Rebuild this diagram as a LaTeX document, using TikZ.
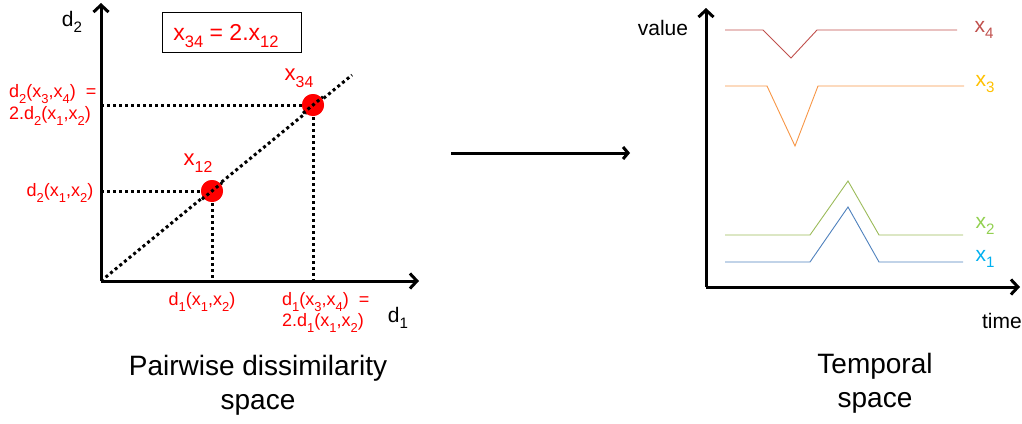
\documentclass[tikz,border=0pt]{standalone}
\usepackage{fontspec}
\setmainfont{Liberation Sans}
\usetikzlibrary{arrows.meta}
\newcommand\sbs[1]{\raisebox{-0.3em}{\scalebox{0.72}{#1}}}
\definecolor{cx4}{HTML}{C0504D}
\definecolor{cx3}{HTML}{F79646}
\definecolor{cx2}{HTML}{9BBB59}
\definecolor{cx1}{HTML}{4F81BD}
\definecolor{lx3}{HTML}{FFC000}
\definecolor{lx2}{HTML}{92D050}
\definecolor{lx1}{HTML}{00B0F0}
\definecolor{rd}{HTML}{FF0000}
\tikzset{
  axis/.style={line width=3pt,-{Straight Barb[length=7pt,width=15pt,line width=3pt]}},
  dotline/.style={line width=3pt,dash pattern=on 3pt off 3pt},
  redlbl/.style={text=rd,font=\fontsize{18}{22}\selectfont,inner sep=0pt},
  biglbl/.style={font=\fontsize{28}{34}\selectfont,align=center,inner sep=0pt},
  axlbl/.style={font=\fontsize{21}{25}\selectfont,inner sep=0pt},
  dot/.style={circle,fill=rd,minimum size=22pt,inner sep=0pt},
  curve/.style={line width=0.9pt},
}
\begin{document}
\begin{tikzpicture}[x=1pt,y=-1pt]
\useasboundingbox (0,0) rectangle (1022,423);
% ---- left panel
\coordinate (O) at (101,281);
\coordinate (Ytip) at (101,3);
\coordinate (Xtip) at (419,281);
\coordinate (Dend) at (352,75);
\node[dot] (p12) at (212,191) {};
\node[dot] (p34) at (313,105) {};
\coordinate (h12) at (101,191);
\coordinate (h34) at (101,105);
\coordinate (v12) at (212,281);
\coordinate (v34) at (313,281);
\draw[dotline] (O) -- (Dend);
\draw[dotline] (h12) -- (p12.center);
\draw[dotline] (h34) -- (p34.center);
\draw[dotline] (p12.center) -- (v12);
\draw[dotline] (p34.center) -- (v34);
\node[dot] at (p12) {};
\node[dot] at (p34) {};
\draw[dotline] (p12.center) ++(-10,8.2) -- ++(20,-16.4);
\draw[dotline] (p34.center) ++(-10,8.2) -- ++(20,-16.4);
\draw[axis] (O) -- (Ytip);
\draw[axis] (O) -- (Xtip);
\node[axlbl] (d2) at (72,22) {d\sbs{2}};
\node[axlbl] (d1) at (398,318) {d\sbs{1}};
\node[draw,line width=0.8pt,minimum width=139pt,minimum height=40pt] (box) at (231.5,32) {};
\node[text=rd,font=\fontsize{23}{27}\selectfont,inner sep=0pt] (eq) at (226,36) {x\sbs{34} = 2.x\sbs{12}};
\node[text=rd,font=\fontsize{22}{26}\selectfont,inner sep=0pt] (l12) at (198,163) {x\sbs{12}};
\node[text=rd,font=\fontsize{22}{26}\selectfont,inner sep=0pt] (l34) at (299,78) {x\sbs{34}};
\node[redlbl,anchor=west] (ly34a) at (9,94) {d\sbs{2}(x\sbs{3},x\sbs{4}) \ =};
\node[redlbl,anchor=west] (ly34b) at (9,116) {2.d\sbs{2}(x\sbs{1},x\sbs{2})};
\node[redlbl] (ly12) at (60,193) {d\sbs{2}(x\sbs{1},x\sbs{2})};
\node[redlbl] (lx12) at (202,302) {d\sbs{1}(x\sbs{1},x\sbs{2})};
\node[redlbl,anchor=west] (lx34a) at (282,302) {d\sbs{1}(x\sbs{3},x\sbs{4}) \ =};
\node[redlbl,anchor=west] (lx34b) at (282,323) {2.d\sbs{1}(x\sbs{1},x\sbs{2})};
\node[biglbl] (t1) at (258,385) {Pairwise dissimilarity\\space};
% ---- middle arrow
\coordinate (ma) at (451,153);
\coordinate (mb) at (630,153);
\draw[line width=3pt,-{Straight Barb[length=5pt,width=12pt,line width=3pt]}] (ma) -- (mb);
% ---- right panel
\coordinate (O2) at (706,287);
\coordinate (Y2) at (706,8);
\coordinate (X2) at (1020,287);
\draw[axis] (O2) -- (Y2);
\draw[axis] (O2) -- (X2);
\node[axlbl] (val) at (663,28) {value};
\node[axlbl,anchor=east] (tim) at (1022,321) {time};
\draw[curve,cx4] (725,30) -- (763,30) -- (791,58) -- (817,30) -- (957,30);
\draw[curve,cx3] (725,86) -- (767,86) -- (795,146) -- (818,86) -- (964,86);
\draw[curve,cx2] (725,235) -- (810,235) -- (848,181) -- (879,235) -- (963,235);
\draw[curve,cx1] (725,262) -- (810,262) -- (848,207) -- (879,262) -- (963,262);
\node[axlbl,text=cx4] (n4) at (984,30) {x\sbs{4}};
\node[axlbl,text=lx3] (n3) at (985,84) {x\sbs{3}};
\node[axlbl,text=lx2] (n2) at (985,226) {x\sbs{2}};
\node[axlbl,text=lx1] (n1) at (985,259) {x\sbs{1}};
\node[biglbl] (t2) at (875,383) {Temporal\\space};
\end{tikzpicture}
\end{document}
